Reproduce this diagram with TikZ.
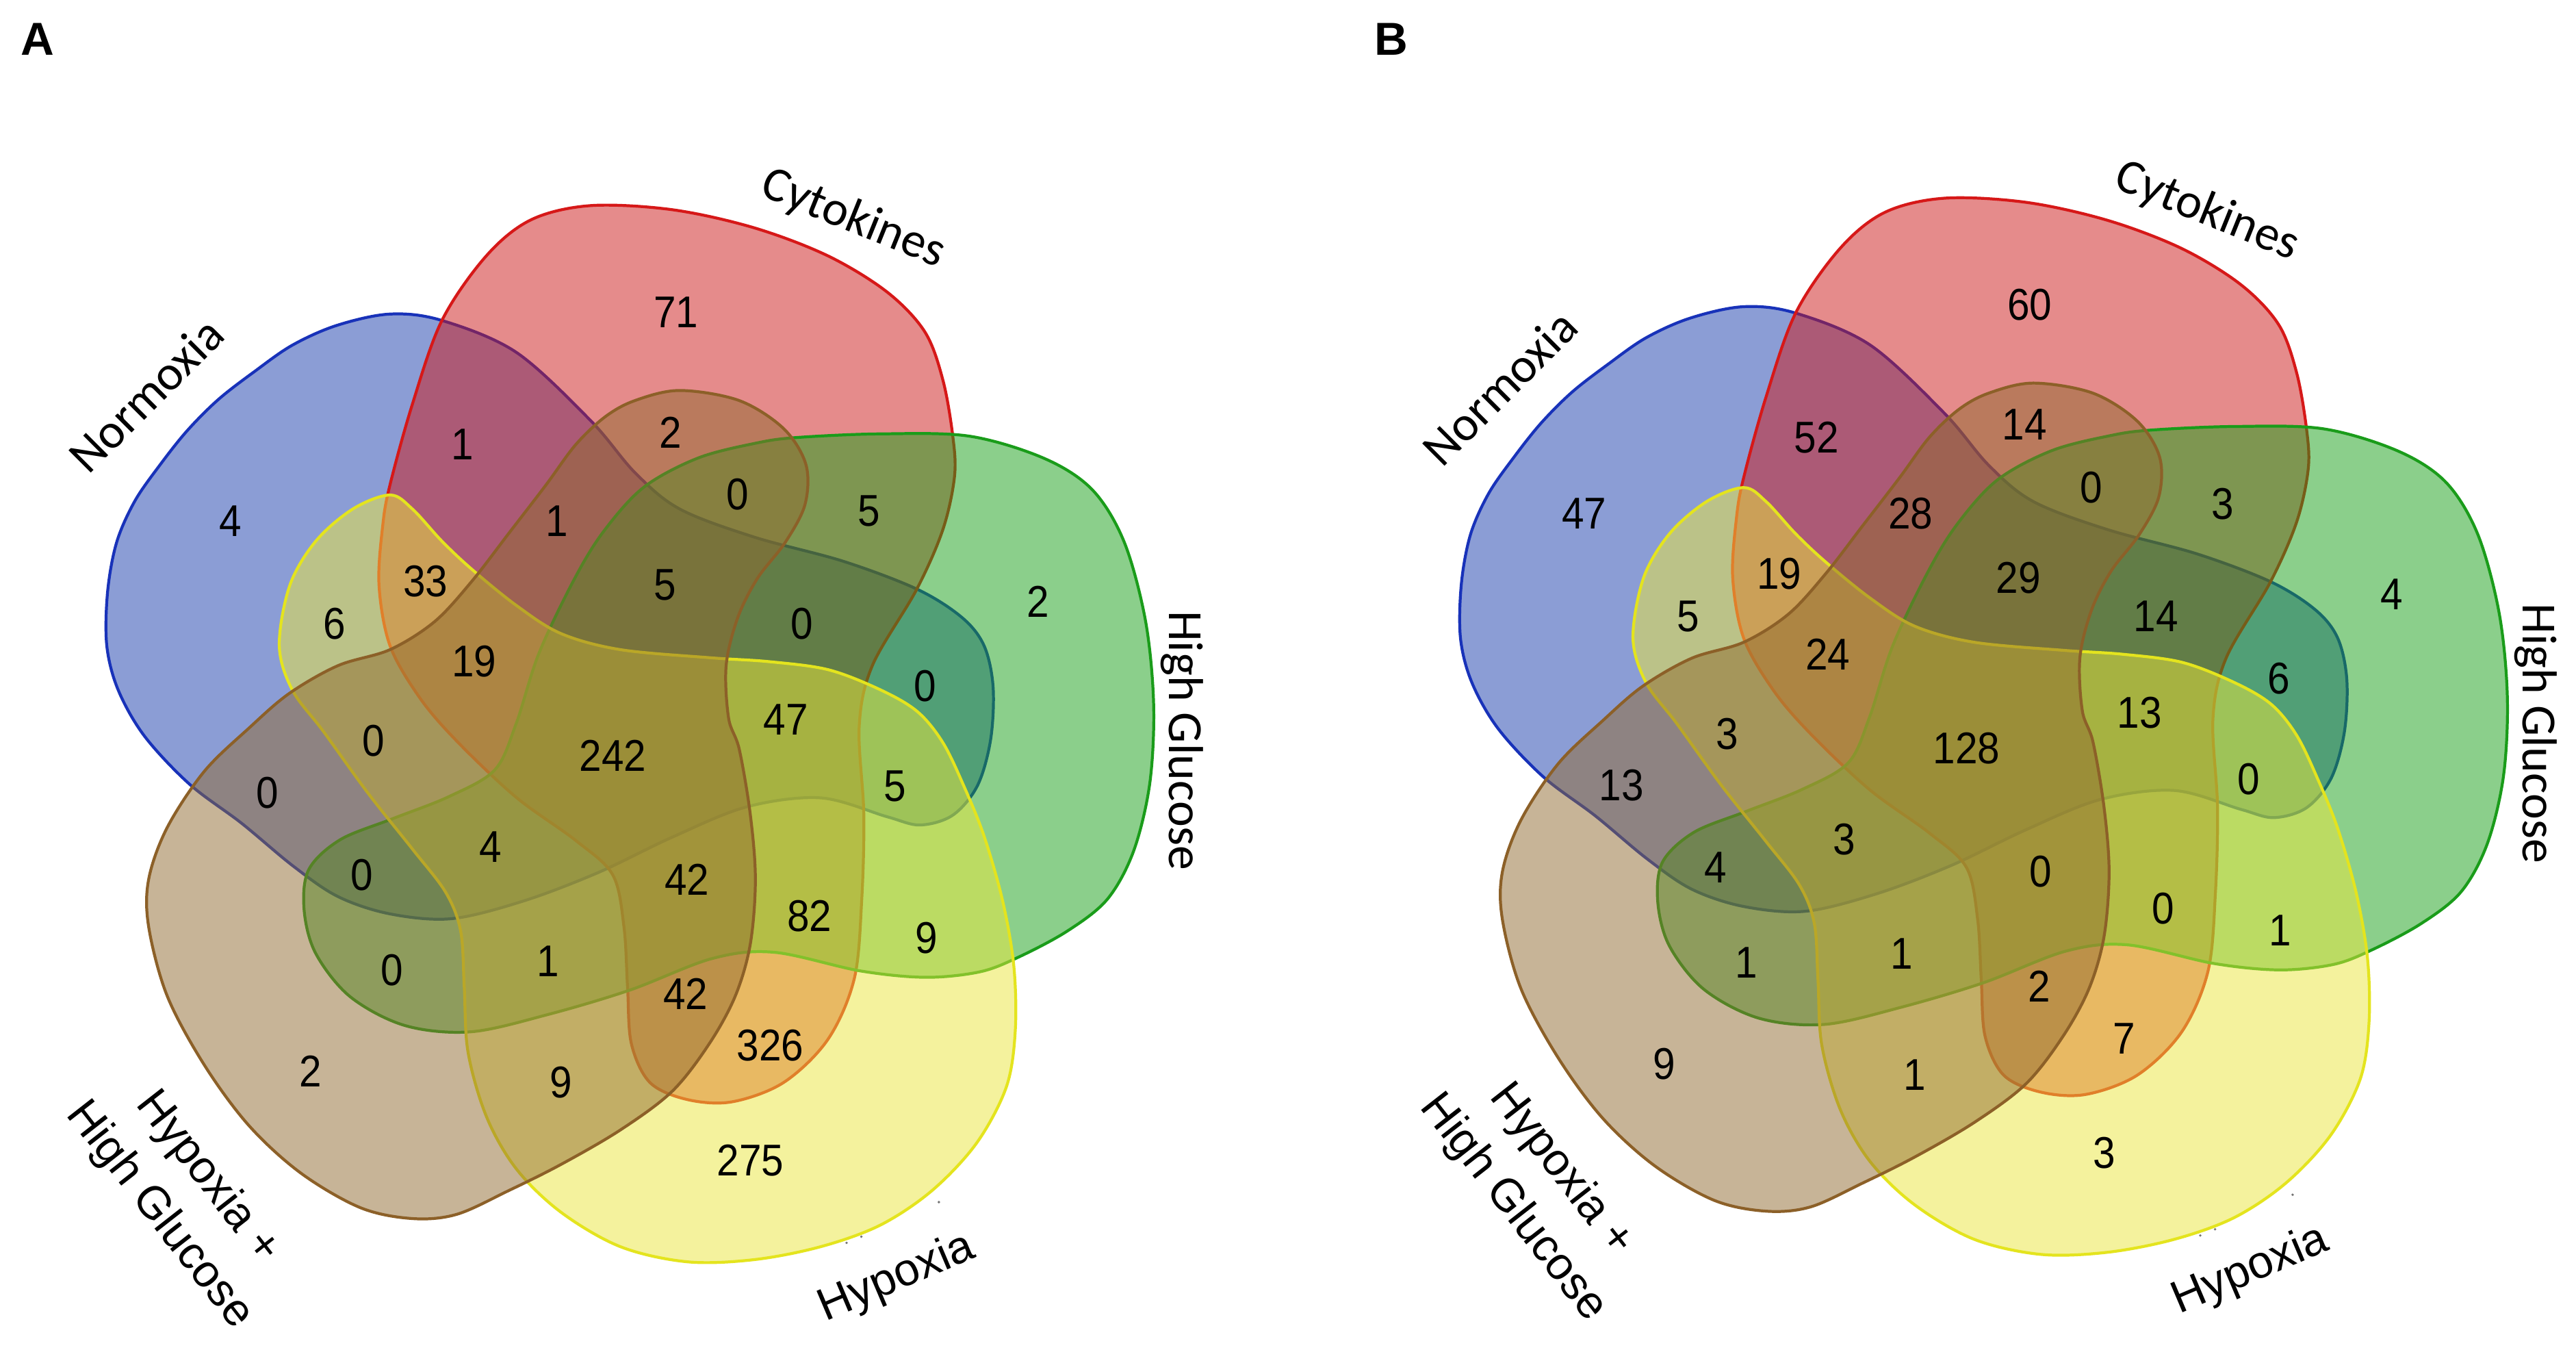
\documentclass[tikz,border=0pt]{standalone}
\usepackage{fontspec}
\setmainfont{Liberation Sans}
\newfontfamily\numfont[FakeStretch=0.9]{Liberation Sans}
\newfontfamily\calfont{Carlito}
\definecolor{fblue}{RGB}{25,61,173}
\definecolor{sblue}{RGB}{24,50,185}
\definecolor{fred}{RGB}{205,25,25}
\definecolor{sred}{RGB}{214,24,24}
\definecolor{fgreen}{RGB}{25,161,25}
\definecolor{sgreen}{RGB}{26,156,26}
\definecolor{fyellow}{RGB}{235,231,60}
\definecolor{syellow}{RGB}{228,228,30}
\definecolor{fbrown}{RGB}{145,107,48}
\definecolor{sbrown}{RGB}{140,96,40}
% template (Cytokines) outline, also used rotated for High Glucose
\newcommand\redpts{(359.5,125.1) (409.2,127.6) (459,138.6) (504,155.7) (540,177.7) (563,202)
  (574,231.5) (580,265.7) (581,290) (574,322) (558,358.6) (531,405) (523,442)
  (525.8,495.6) (524.5,548) (520,595.5) (504,632.4) (477,658.7) (445.4,670.5)
  (418,669) (395.6,658.7) (384.3,635) (382,600.8) (379.8,564) (373,532.4)
  (350.4,511.4) (314,485) (278,450.9) (255.5,424.6) (237.4,392.9) (230.7,356)
  (233,319.5) (237.4,295) (251,246) (269,195) (296,155.7) (323.3,133.7)}
\newcommand\vennshapes{%
  % Normoxia
  \filldraw[setshape, draw=sblue, fill=fblue] plot[smooth cycle, tension=0.55] coordinates {
   (237.4,191.1) (269,195) (314.3,214.4) (359.5,255.9) (386.6,287.7) (413.7,309.7)
   (459,326.8) (513.2,341.5) (558.4,358.6) (585.5,375.7) (599,392.9) (604.5,418)
   (603,450) (595,478) (580,496) (560,502) (540,497) (499.6,485.5) (454.4,491)
   (409,509.5) (364,531) (318.8,548.2) (275,559) (237.4,556.1) (205.8,545.6)
   (178.7,527.2) (147,500.9) (115.4,477.2) (88,448) (72,420) (65,392.9) (65.5,360)
   (71,330) (82,305) (97.3,283) (114,262) (133,243) (155,226) (178,210) (205,198)};
  % Cytokines
  \filldraw[setshape, draw=sred, fill=fred] plot[smooth cycle, tension=0.55] coordinates {\redpts};
  % High Glucose
  \filldraw[setshape, draw=sgreen, fill=fgreen, rotate around={-72:(381,451)}]
    plot[smooth cycle, tension=0.55] coordinates {\redpts};
  % Hypoxia
  \filldraw[setshape, draw=syellow, fill=fyellow] plot[smooth cycle, tension=0.55] coordinates {
   (237.4,301.2) (251,309.7) (269,329.3) (287.2,346.4) (314.3,368.4) (341.4,385.5)
   (377.6,395.3) (431.8,400.2) (468,402.6) (504.1,407.5) (535.8,419.7) (558.4,433)
   (574,452) (587,479) (599,508.8) (610.3,548.2) (617.1,587.7) (618,627) (612.6,661.3)
   (594.5,695.5) (567.4,724.4) (535.8,745.5) (499.6,758.6) (459,766.5) (418.2,767.8)
   (377.6,758.6) (341.4,737.6) (314.3,711.3) (296.2,679.7) (284.9,640.3) (282.6,600.8)
   (280.4,566.6) (271.3,543) (251,516.6) (223.9,482.5) (196.8,445) (178,420)
   (170,392.9) (176.4,356.2) (192.2,329.3) (214.8,309.7)};
  % Hypoxia + High Glucose
  \filldraw[setshape, draw=sbrown, fill=fbrown] plot[smooth cycle, tension=0.55] coordinates {
   (413.7,237.6) (449.9,243.7) (477,260.8) (490.6,282.8) (490,307) (478,330) (461,352)
   (449,376) (442,405) (443.5,437) (450,456) (456.7,495.6) (459.8,535) (456.7,574.5)
   (447.6,606) (431.8,635) (409.2,664) (377.6,687.6) (341.4,708.6) (309.8,724.4)
   (278.1,738.9) (251,741.5) (219.4,734.9) (183.2,713.9) (151.6,685) (124.4,648.1)
   (101.8,606.1) (90.5,564) (90.5,535) (101.8,503.5) (124.4,469.3) (151.6,443)
   (176,422) (205.8,405) (237.4,395.3) (264.6,378.2) (287.2,353.7) (309.8,324.4)
   (332.4,295) (350.4,270.6) (368.5,253.5) (386.6,243.7)};
}
\begin{document}
\begin{tikzpicture}[x=0.01cm,y=-0.01cm,
  num/.style={font=\numfont\fontsize{7.7}{9}\selectfont, inner sep=0pt},
  lab/.style={font=\calfont\fontsize{8.5}{10}\selectfont, inner sep=0pt},
  laba/.style={font=\fontsize{7.9}{10.6}\selectfont, inner sep=0pt, align=center},
  panel/.style={font=\bfseries\fontsize{8}{9}\selectfont, inner sep=0pt},
  setshape/.style={line width=0.5pt, fill opacity=0.5, draw opacity=1},
  dot/.style={fill=black!55, draw=none}]
\useasboundingbox (0,0) rectangle (1568,829);
\fill[white] (0,0) rectangle (1568,829);

% ---------- Panel A ----------
\begin{scope}
\vennshapes
\foreach \i/\p/\t in {1/{411.5,190}/71, 2/{140.3,317}/4, 3/{281.7,270.6}/1,
  4/{408.3,263}/2, 5/{449,301}/0, 6/{529,311}/5, 7/{339,317}/1,
  8/{203.5,379.4}/6, 9/{259,353.7}/33, 10/{404.7,356}/5, 11/{488.3,379.4}/0,
  12/{632,366}/2, 13/{288.5,402.6}/19, 14/{563,417.3}/0, 15/{478.4,438}/47,
  16/{227.5,450.9}/0, 17/{373,460}/242, 18/{162.9,482.5}/0, 19/{544.8,478.5}/5,
  20/{298.5,515.3}/4, 21/{220.3,532.4}/0, 22/{418.2,535}/42, 23/{492.8,557.4}/82,
  24/{564,570.6}/9, 25/{238.8,590.3}/0, 26/{333.7,585}/1, 27/{417.3,604.7}/42,
  28/{468.9,636.3}/326, 29/{189,652}/2, 30/{341.4,658.7}/9, 31/{456.7,706}/275}
  {\node[num] (a\i) at (\p) {\t};}
\node[lab, rotate=45] (anorm) at (88.9,240.3) {Normoxia};
\node[lab, rotate=-22] (acyt) at (519.4,133.3) {Cytokines};
\node[lab, rotate=-90] (ahg) at (719.4,450.7) {High Glucose};
\node[laba, rotate=23] (ahyp) at (545.8,777.8) {Hypoxia};
\node[laba, rotate=-52] (ahhg) at (111.5,728) {Hypoxia +\\High Glucose};
\fill[dot] (515.3,756.3) circle (0.8) (524.3,752.5) circle (0.8) (571.5,731.5) circle (0.8);
\node[panel] (lblA) at (23,24) {A};
\end{scope}

% ---------- Panel B ----------
\begin{scope}[shift={(824,-4.5)}]
\vennshapes
\foreach \i/\p/\t in {1/{411.5,190}/60, 2/{140.3,317}/47, 3/{281.7,270.6}/52,
  4/{408.3,263}/14, 5/{449,301}/0, 6/{529,311}/3, 7/{339,317}/28,
  8/{203.5,379.4}/5, 9/{259,353.7}/19, 10/{404.7,356}/29, 11/{488.3,379.4}/14,
  12/{632,366}/4, 13/{288.5,402.6}/24, 14/{563,417.3}/6, 15/{478.4,438}/13,
  16/{227.5,450.9}/3, 17/{373,460}/128, 18/{162.9,482.5}/13, 19/{544.8,478.5}/0,
  20/{298.5,515.3}/3, 21/{220.3,532.4}/4, 22/{418.2,535}/0, 23/{492.8,557.4}/0,
  24/{564,570.6}/1, 25/{238.8,590.3}/1, 26/{333.7,585}/1, 27/{417.3,604.7}/2,
  28/{468.9,636.3}/7, 29/{189,652}/9, 30/{341.4,658.7}/1, 31/{456.7,706}/3}
  {\node[num] (b\i) at (\p) {\t};}
\node[lab, rotate=45] (bnorm) at (88.9,240.3) {Normoxia};
\node[lab, rotate=-22] (bcyt) at (519.4,133.3) {Cytokines};
\node[lab, rotate=-90] (bhg) at (719.4,450.7) {High Glucose};
\node[laba, rotate=23] (bhyp) at (545.8,777.8) {Hypoxia};
\node[laba, rotate=-52] (bhhg) at (111.5,728) {Hypoxia +\\High Glucose};
\fill[dot] (515.3,756.3) circle (0.8) (524.3,752.5) circle (0.8) (571.5,731.5) circle (0.8);
\end{scope}
\node[panel] (lblB) at (847,24) {B};
\end{tikzpicture}
\end{document}
